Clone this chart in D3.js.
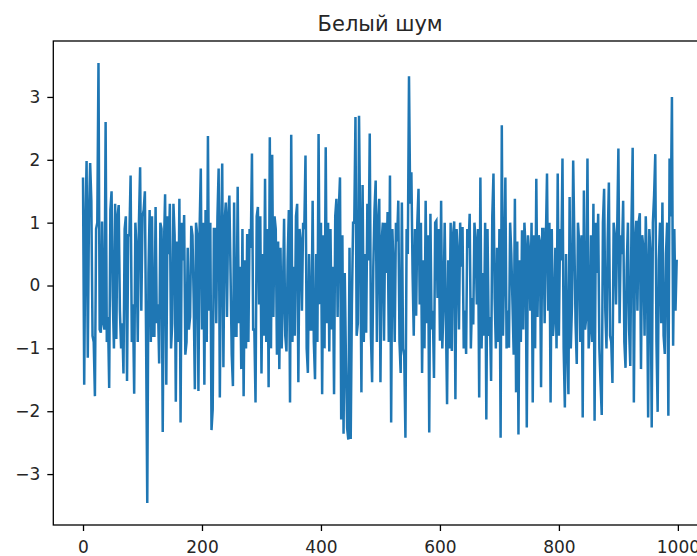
<!DOCTYPE html>
<html>
<head>
<meta charset="utf-8">
<script src="https://cdn.jsdelivr.net/npm/d3@7"></script>
<style>
  body { margin: 0; background: #fff; }
  text { font-family: "DejaVu Sans", sans-serif; fill: #262626; }
</style>
</head>
<body>
<div id="chart-container"></div>
<script>
// Chart data: white noise, one value every `step` samples
const title = 'Белый шум';
const step = 2;
const sampleCount = 1000;
const noise = [
  1.72, -1.58, 0.9, 1.98, -1.15, 1.1, 1.95, 1.35, -0.8, -0.9, -1.76, 0.9, 1.0, 3.54, -0.7,
  -0.75, 1.02, -0.6, -0.7, 2.6, -0.9, -0.5, -1.63, 1.2, 1.5, -0.2, -1.0, 1.3, -0.85, 1.1,
  1.28, -0.4, -1.0, -0.6, -1.4, 0.9, 1.1, -1.52, 0.8, 0.8, 1.75, -0.9, -0.3, -1.72, 1.0,
  0.6, -0.9, 1.0, 1.88, -0.4, 1.1, 1.2, 1.5, -0.8, -3.46, 0.2, 1.2, -0.9, 1.1, -0.8,
  -0.8, 1.25, -0.6, -0.3, -1.24, 1.0, 0.9, -2.33, 0.6, 1.45, -1.58, 1.1, 0.5, 1.3, -1.0,
  -0.6, 1.3, 0.8, -1.85, 0.7, -0.9, 1.38, -2.18, 1.0, 0.4, 1.12, -1.1, -0.9, 0.6, -0.7,
  -0.5, 0.95, 0.8, -0.2, -1.65, 1.0, 0.8, -1.68, 0.9, 1.86, -0.7, 1.0, -1.58, 1.2, -0.9,
  2.38, -0.4, 1.0, -2.3, -1.97, 0.9, 0.9, -0.6, 1.1, 1.86, -1.78, 0.7, 1.94, -1.3, 1.0,
  1.32, -0.5, 1.1, 1.43, 0.2, -1.1, -1.6, 1.32, -0.8, -0.8, 1.57, -0.6, 0.3, -1.33, 0.9,
  -1.76, 0.4, -1.0, 0.82, -0.9, 0.9, 0.6, 2.1, -0.7, -0.7, -1.86, 1.1, 1.25, -0.3, 1.1,
  -1.4, 0.5, -0.8, 1.7, -0.9, 0.9, -1.62, 2.36, -1.0, 2.08, -0.5, 1.1, 0.9, -1.1, 0.7,
  -1.33, 0.6, -1.0, -0.2, 1.06, -0.8, -1.05, 0.4, 1.2, -1.86, 2.4, -0.9, 0.3, -0.8, 1.1,
  1.3, -1.54, 0.9, 0.7, -0.4, 1.0, 0.9, 2.07, -1.0, -1.39, 0.5, -0.7, -0.7, 1.35, -0.9,
  -1.49, 0.5, -0.9, 2.41, -0.3, 1.0, -1.73, 0.8, -1.0, 2.2, -0.6, 1.0, -1.05, 0.9, -0.7,
  0.3, -1.73, 1.1, 1.38, -0.5, 1.2, 1.72, -2.13, 0.8, -2.36, 0.2, -1.2, -2.27, -2.45, 0.6,
  -2.44, -0.3, 1.0, 1.0, 2.68, -0.8, -0.6, 2.7, 0.8, -1.7, 1.6, -0.9, 0.5, -0.75, 1.3,
  0.4, 2.42, -0.8, -1.54, 0.3, 1.2, 1.67, -0.9, 1.0, 1.38, -1.54, 0.7, 1.0, -0.88, 1.0,
  0.2, 1.17, -0.9, 1.75, -2.18, 0.9, 0.3, -0.9, 1.0, 0.7, 1.35, -0.9, -1.39, 1.32, -1.0,
  -1.12, -2.42, 0.9, 0.5, 3.33, 1.3, 1.8, 0.2, -0.8, 0.9, -0.48, 1.0, 1.54, -0.3, 1.0,
  -1.39, 0.4, -1.0, 1.35, -0.6, 0.8, -2.34, 1.14, -0.7, -0.4, -1.47, 1.0, 1.03, -0.2, 0.9,
  -0.88, 1.35, -1.0, -0.3, 1.0, -0.5, -1.89, 0.4, -1.0, 1.0, -1.04, 0.8, 1.02, -1.81, 0.9,
  0.5, -0.7, 1.0, 0.3, 0.93, -1.0, -0.4, -1.09, 0.9, 0.6, 1.14, -1.0, -0.2, -0.62, 1.0,
  0.7, -0.3, 0.9, -1.78, 1.72, -1.0, 0.2, -0.8, 1.0, -2.13, 0.9, -0.8, -0.5, -1.52, 1.1,
  1.78, -0.2, -1.0, 0.6, -0.9, 0.9, -2.42, 2.55, -0.8, 0.3, 1.72, -1.0, -0.4, -0.99, 1.0,
  0.5, -0.3, -1.1, 1.38, -1.7, 0.7, -2.37, 0.4, -0.9, 0.88, -0.7, 1.0, 0.6, -2.26, 0.8,
  0.53, -0.4, 1.0, -1.86, 0.8, -1.0, 1.7, -0.5, 0.8, 0.7, -1.62, 0.9, 0.9, -0.6, 0.7,
  1.78, -0.4, 1.0, -1.86, 0.9, -0.8, -0.5, 0.6, -1.0, 1.78, -0.8, 0.9, 0.4, 2.02, -1.0,
  -1.94, 0.5, -0.9, -1.73, 1.41, -1.0, -0.3, 1.99, 0.7, -0.6, -1.25, 1.0, 0.7, -0.9, 0.8,
  -2.1, 1.51, -0.7, -0.5, 2.02, -1.0, -0.7, 0.8, -0.9, 1.3, -2.15, 1.0, 0.2, 1.14, -1.0,
  -1.55, -2.06, 1.0, 1.54, -0.4, -1.0, 0.7, 1.64, -0.8, -0.9, -1.55, 1.0, 0.8, -0.3, 0.9,
  2.18, -0.6, 0.8, 0.5, 1.35, -0.9, -1.31, 0.3, 1.0, -0.7, -1.28, 1.0, 2.19, -1.86, 0.7,
  1.03, -0.4, 1.0, 1.15, -1.33, 0.8, 0.6, -0.8, 1.1, 0.3, -2.1, 0.9, 0.5, -2.26, 1.0,
  1.43, 2.09, -0.9, -2.01, 0.4, 1.0, -0.6, 1.32, -0.8, -1.09, 0.5, 1.0, -2.07, 2.02, 1.1,
  3.0, -0.96, 0.9, -0.4, 0.41
];
const xTicks = [0, 200, 400, 600, 800, 1000];
const yTicks = [-3, -2, -1, 0, 1, 2, 3];

// Dimensions (the axes box runs past the right edge of the picture)
const margin = { top: 41, left: 53.3 };
const width = 653.7;
const height = 484;

const svg = d3.select('#chart-container')
    .append('svg')
    .attr('width', 697)
    .attr('height', 556);

const g = svg.append('g')
    .attr('transform', `translate(${margin.left},${margin.top})`);

const points = noise.map((v, i) => ({ x: i * step, y: v }));

// Scales with 5% padding like matplotlib
const n = sampleCount - 1;
const xScale = d3.scaleLinear()
    .domain([-0.05 * n, n * 1.05])
    .range([0, width]);

const [yMin, yMax] = d3.extent(noise);
const yPad = (yMax - yMin) * 0.05;
const yScale = d3.scaleLinear()
    .domain([yMin - yPad, yMax + yPad])
    .range([height, 0]);

// Line
const line = d3.line()
    .x(d => xScale(d.x))
    .y(d => yScale(d.y));

g.append('path')
    .datum(points)
    .attr('fill', 'none')
    .attr('stroke', '#1f77b4')
    .attr('stroke-width', 2.5)
    .attr('d', line);

// Axes
const xAxis = d3.axisBottom(xScale)
    .tickValues(xTicks)
    .tickSize(6)
    .tickSizeOuter(0)
    .tickPadding(10)
    .tickFormat(d3.format('d'));

const yAxis = d3.axisLeft(yScale)
    .tickValues(yTicks)
    .tickSize(6)
    .tickSizeOuter(0)
    .tickPadding(7)
    .tickFormat(d3.format('d'));

const xg = g.append('g')
    .attr('transform', `translate(0,${height})`)
    .call(xAxis);

const yg = g.append('g')
    .call(yAxis);

[xg, yg].forEach(a => {
    a.select('.domain').remove();
    a.selectAll('line').attr('stroke', '#000').attr('stroke-width', 1.3);
    a.selectAll('text')
        .style('font-family', '"DejaVu Sans", sans-serif')
        .style('font-size', '17px')
        .attr('fill', '#262626');
});

// Frame
g.append('rect')
    .attr('width', width)
    .attr('height', height)
    .attr('fill', 'none')
    .attr('stroke', '#000')
    .attr('stroke-width', 1.3);

// Title
svg.append('text')
    .attr('x', margin.left + width / 2)
    .attr('y', 31)
    .attr('text-anchor', 'middle')
    .style('font-size', '21px')
    .text(title);
</script>
</body>
</html>
